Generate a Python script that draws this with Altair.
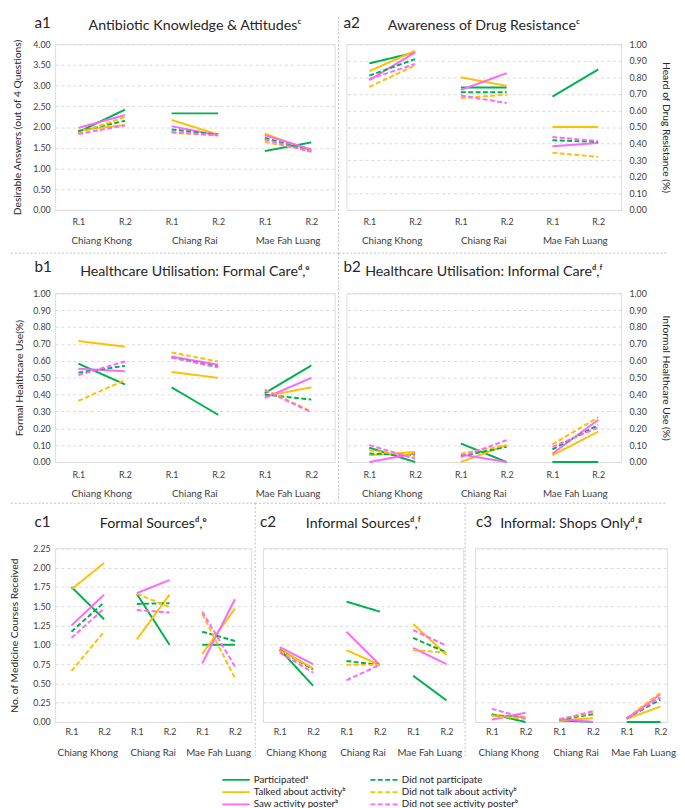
import altair as alt
import pandas as pd

# ---------------- data ----------------
DISTRICTS = ["Chiang Khong", "Chiang Rai", "Mae Fah Luang"]
ROUND_LABELS = ["R.1", "R.2"]
POSITIONS = [0, 1, 2, 3, 4, 5]          # CK R.1, CK R.2, CR R.1, CR R.2, MFL R.1, MFL R.2
DISTRICT_POS = [0.5, 2.5, 4.5]

SERIES = ["Participatedᵃ", "Talked about activityᵇ", "Saw activity posterᵇ",
          "Did not participate", "Did not talk about activityᵇ", "Did not see activity posterᵇ"]
GREEN, GOLD, PINK = "#00B050", "#FFC000", "#FF66FF"
COLOR_RANGE = [GREEN, GOLD, PINK, GREEN, GOLD, PINK]
DASH_RANGE = [[1, 0], [1, 0], [1, 0], [5, 2.5], [5, 2.5], [5, 2.5]]

# values in SERIES order, each [CK R1, CK R2, CR R1, CR R2, MFL R1, MFL R2]
A1_VALUES = [
    [1.88, 2.42, 2.33, 2.33, 1.42, 1.63],
    [1.92, 2.05, 2.17, 1.82, 1.84, 1.43],
    [1.98, 2.29, 2.02, 1.80, 1.80, 1.46],
    [1.90, 2.15, 1.94, 1.82, 1.74, 1.42],
    [1.85, 2.24, 1.86, 1.80, 1.64, 1.42],
    [1.83, 2.04, 1.88, 1.80, 1.70, 1.40],
]
A2_VALUES = [
    [0.884, 0.950, 0.738, 0.738, 0.683, 0.848],
    [0.837, 0.960, 0.800, 0.748, 0.500, 0.500],
    [0.783, 0.950, 0.724, 0.825, 0.384, 0.404],
    [0.810, 0.910, 0.710, 0.710, 0.420, 0.410],
    [0.742, 0.872, 0.675, 0.695, 0.345, 0.320],
    [0.790, 0.880, 0.690, 0.645, 0.440, 0.415],
]
B1_VALUES = [
    [0.583, 0.460, 0.443, 0.280, 0.408, 0.573],
    [0.717, 0.684, 0.534, 0.499, 0.390, 0.443],
    [0.553, 0.538, 0.625, 0.577, 0.380, 0.499],
    [0.530, 0.570, 0.620, 0.565, 0.400, 0.370],
    [0.363, 0.485, 0.650, 0.596, 0.430, 0.300],
    [0.515, 0.596, 0.620, 0.560, 0.425, 0.295],
]
B2_VALUES = [
    [0.085, 0.000, 0.110, 0.000, 0.000, 0.000],
    [0.040, 0.060, 0.000, 0.100, 0.040, 0.180],
    [0.000, 0.050, 0.045, 0.000, 0.050, 0.250],
    [0.050, 0.040, 0.035, 0.090, 0.075, 0.220],
    [0.070, 0.035, 0.050, 0.100, 0.105, 0.265],
    [0.100, 0.020, 0.030, 0.130, 0.090, 0.205],
]
C1_VALUES = [
    [1.75, 1.33, 1.66, 1.00, 1.00, 1.00],
    [1.72, 2.06, 1.07, 1.65, 0.88, 1.47],
    [1.25, 1.65, 1.67, 1.84, 0.76, 1.59],
    [1.17, 1.55, 1.53, 1.54, 1.17, 1.05],
    [0.66, 1.17, 1.66, 1.49, 1.40, 0.57],
    [1.09, 1.47, 1.45, 1.42, 1.43, 0.72],
]
C2_VALUES = [
    [0.94, 0.47, 1.56, 1.43, 0.60, 0.28],
    [0.95, 0.69, 0.93, 0.74, 1.27, 0.87],
    [0.97, 0.75, 1.17, 0.74, 0.96, 0.75],
    [0.93, 0.68, 0.79, 0.74, 1.09, 0.90],
    [0.92, 0.70, 0.74, 0.74, 0.93, 0.90],
    [0.90, 0.64, 0.54, 0.74, 1.19, 0.99],
]
C3_VALUES = [
    [0.10, 0.00, 0.02, 0.00, 0.00, 0.00],
    [0.09, 0.06, 0.02, 0.05, 0.04, 0.20],
    [0.03, 0.12, 0.04, 0.00, 0.04, 0.36],
    [0.09, 0.05, 0.03, 0.10, 0.05, 0.29],
    [0.08, 0.04, 0.04, 0.12, 0.05, 0.38],
    [0.17, 0.05, 0.03, 0.14, 0.05, 0.32],
]

TICKS_4 = [0.0, 0.5, 1.0, 1.5, 2.0, 2.5, 3.0, 3.5, 4.0]
TICKS_1 = [0.0, 0.1, 0.2, 0.3, 0.4, 0.5, 0.6, 0.7, 0.8, 0.9, 1.0]
TICKS_225 = [0.0, 0.25, 0.5, 0.75, 1.0, 1.25, 1.5, 1.75, 2.0, 2.25]

# ---------------- style ----------------
FONT = "Lato"
TXT = "#262626"
LAB = "#404040"
GRID = "#D9D9D9"
SEP = "#BFBFBF"

LEG = alt.Legend(title=None, orient="none", legendX=179.5, legendY=745, columns=2,
                 columnPadding=21, rowPadding=2.5, symbolType="M-4,0H4", symbolSize=49,
                 symbolStrokeWidth=2, labelFont=FONT, labelFontSize=10, labelColor=TXT,
                 labelOffset=13, padding=0, labelLimit=300)


def long_df(values):
    rows = []
    for s, vals in zip(SERIES, values):
        for i, v in enumerate(vals):
            rows.append({"series": s, "district": DISTRICTS[i // 2], "pos": POSITIONS[i], "value": v})
    return pd.DataFrame(rows)


def one(text):
    return pd.DataFrame({"t": [text]})


def hrule(y, x1, x2):
    return alt.Chart(one("")).mark_rule(color=SEP, strokeDash=[2, 2], strokeWidth=1).encode(
        x=alt.value(x1), x2=alt.value(x2), y=alt.value(y))


def vrule(x, y1, y2):
    return alt.Chart(one("")).mark_rule(color=SEP, strokeDash=[2, 2], strokeWidth=1).encode(
        x=alt.value(x), y=alt.value(y1), y2=alt.value(y2))


def panel(values, w, h, ymax, yaxis, xdom, letter, letter_dx, letter_dy, title, title_dy,
          xlab_pad, dist_dy, rules):
    xaxis = alt.Axis(values=POSITIONS,
                     labelExpr=f"datum.value % 2 == 0 ? '{ROUND_LABELS[0]}' : '{ROUND_LABELS[1]}'",
                     title=None, grid=False, ticks=False, domain=False, labelPadding=xlab_pad,
                     labelFontSize=9, labelColor=LAB, labelFont=FONT, labelAngle=0)
    xenc = alt.X("pos:Q", scale=alt.Scale(domain=xdom, nice=False, zero=False), axis=xaxis)
    lines = alt.Chart(long_df(values)).mark_line(strokeWidth=2).encode(
        x=xenc,
        y=alt.Y("value:Q", scale=alt.Scale(domain=[0, ymax], nice=False, zero=True), axis=yaxis),
        color=alt.Color("series:N", scale=alt.Scale(domain=SERIES, range=COLOR_RANGE), legend=LEG),
        strokeDash=alt.StrokeDash("series:N", scale=alt.Scale(domain=SERIES, range=DASH_RANGE), legend=LEG),
        detail="district:N",
    )
    dist = alt.Chart(pd.DataFrame({"district": DISTRICTS, "pos": DISTRICT_POS})).mark_text(
        fontSize=10, color=LAB, font=FONT, baseline="middle").encode(
        x=xenc, y=alt.value(h + dist_dy), text="district:N")
    let = alt.Chart(one(letter)).mark_text(fontSize=15.5, color=TXT, font=FONT, align="left",
                                           baseline="top").encode(
        x=alt.value(letter_dx), y=alt.value(letter_dy), text="t:N")
    tit = alt.Chart(one(title)).mark_text(fontSize=14.5, color=TXT, font=FONT, align="center",
                                          baseline="top").encode(
        x=alt.value(w / 2), y=alt.value(title_dy), text="t:N")
    layers = rules + [lines, dist, let, tit]
    return alt.layer(*layers).properties(width=w, height=h)


def yaxis_left(ticks, title, tpad):
    return alt.Axis(values=ticks, format=".2f", title=title, orient="left", grid=True, gridColor=GRID,
                    gridDash=[3, 3], ticks=False, domain=False, labelFontSize=9, labelColor=LAB,
                    labelFont=FONT, labelPadding=5, titleFont=FONT, titleFontSize=10.5,
                    titleFontWeight="normal", titleColor=TXT, titlePadding=tpad)


def yaxis_right(ticks, title, tpad):
    return alt.Axis(values=ticks, format=".2f", title=title, orient="right", grid=True, gridColor=GRID,
                    gridDash=[3, 3], ticks=False, domain=False, labelFontSize=9, labelColor=LAB,
                    labelFont=FONT, labelPadding=8, titleFont=FONT, titleFontSize=10.5,
                    titleFontWeight="normal", titleColor=TXT, titlePadding=tpad, titleAngle=90)


def yaxis_grid(ticks):
    return alt.Axis(values=ticks, labels=False, title=None, grid=True, gridColor=GRID,
                    gridDash=[3, 3], ticks=False, domain=False)


XD = [-0.5, 5.5]

# Row a
WA1, WA2, HA = 285, 280, 169
a1 = panel(A1_VALUES, WA1, HA, 4, yaxis_left(TICKS_4, "Desirable Answers (out of 4 Questions)", 10.5),
           XD, "a1", -21, -28, "Antibiotic Knowledge & Attitudesᶜ", -25.5, 8, 32,
           [vrule(WA1 + 4, -28, HA + 42)])
a2 = panel(A2_VALUES, WA2, HA, 1, yaxis_right(TICKS_1, "Heard of Drug Resistance (%)", 14),
           XD, "a2", -3, -28, "Awareness of Drug Resistanceᶜ", -25.5, 8, 32, [])

# Row b
WB1, WB2, HB = 285, 280, 172
b1 = panel(B1_VALUES, WB1, HB, 1, yaxis_left(TICKS_1, "Formal Healthcare Use(%)", 8),
           XD, "b1", -21, -34, "Healthcare Utilisation: Formal Careᵈ,ᵉ", -29, 9, 33,
           [hrule(-41, -45, WB1 + 4), vrule(WB1 + 4, -41, HB + 40)])
b2 = panel(B2_VALUES, WB2, HB, 1, yaxis_right(TICKS_1, "Informal Healthcare Use (%)", 14),
           XD, "b2", -3, -34, "Healthcare Utilisation: Informal Careᵈ,ᶠ", -29, 9, 33,
           [hrule(-41, -8, WB2 + 47)])

# Row c
WC1, WC2, WC3, HC = 200, 204, 196, 177
c1 = panel(C1_VALUES, WC1, HC, 2.25, yaxis_left(TICKS_225, "No. of Medicine Courses Received", 14),
           XD, "c1", -21, -34, "Formal Sourcesᵈ,ᵉ", -32, 6, 32,
           [hrule(-46, -45, WC1 + 6), vrule(WC1 + 4, -46, HC + 36)])
c2 = panel(C2_VALUES, WC2, HC, 2.25, yaxis_grid(TICKS_225),
           XD, "c2", -3, -34, "Informal Sourcesᵈ,ᶠ", -32, 6, 32,
           [hrule(-46, -8, WC2 + 12), vrule(WC2 + 2, -46, HC + 36)])
c3 = panel(C3_VALUES, WC3, HC, 2.25, yaxis_grid(TICKS_225),
           [-0.5, 5.2], "c3", 1, -34, "Informal: Shops Onlyᵈ,ᵍ", -32, 6, 32,
           [hrule(-46, 0, WC3)])

row_a = alt.hconcat(a1, a2, spacing=12, bounds="flush")
row_b = alt.hconcat(b1, b2, spacing=12, bounds="flush")
row_c = alt.hconcat(c1, c2, c3, spacing=12, bounds="flush")

chart = alt.vconcat(row_a, row_b, row_c, spacing=0).properties(padding=0).configure_view(
    stroke=None).configure(font=FONT)

chart.save("out.html", embed_options={"renderer": "svg", "actions": False})
